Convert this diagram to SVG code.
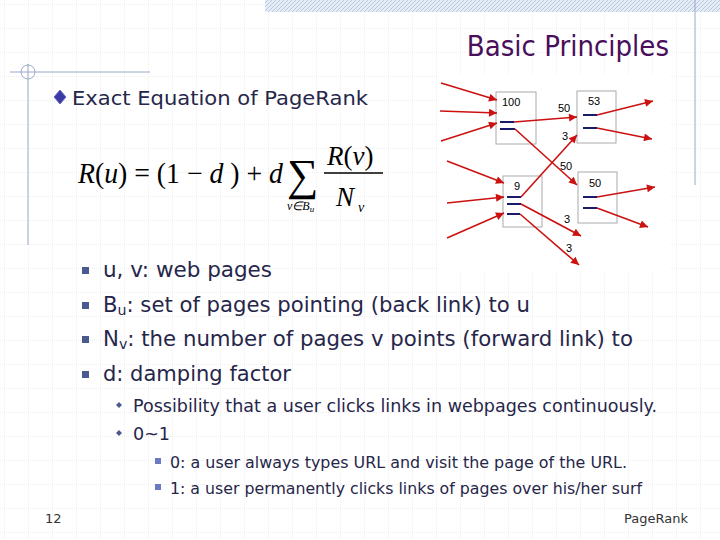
<svg xmlns="http://www.w3.org/2000/svg" width="720" height="540" viewBox="0 0 720 540">
<defs>
<pattern id="grid" width="24" height="24" patternUnits="userSpaceOnUse" x="4" y="4">
<path d="M0 0H24M0 0V24" fill="none" stroke="#d8d8d8" stroke-width="0.8" stroke-dasharray="1,1"/>
</pattern>
<pattern id="hatch" width="4" height="4" patternUnits="userSpaceOnUse">
<rect width="4" height="4" fill="#e4ecf6"/><path d="M0 4L4 0" stroke="#b8c8e0" stroke-width="1"/>
</pattern>
<marker id="ah" viewBox="0 0 10 10" refX="10" refY="5" markerWidth="6.5" markerHeight="5" orient="auto" markerUnits="strokeWidth">
<path d="M0 0L10 5L0 10z" fill="#cc1111"/>
</marker>
<style>
.t{font-family:"DejaVu Sans",sans-serif;fill:#26264a}
.m{font-family:"Liberation Serif",serif;fill:#000}
.box{fill:#fff;stroke:#aaa;stroke-width:1}
.ln{stroke:#1a1a6a;stroke-width:2}
.ar{stroke:#cc1111;stroke-width:1.6;fill:none;marker-end:url(#ah)}
.lb{font-family:"Liberation Sans",sans-serif;font-size:11px;fill:#000}
.bl{fill:#4a5a90}
</style>
</defs>
<rect width="720" height="540" fill="#fff"/>
<rect width="720" height="540" fill="url(#grid)"/>
<rect x="265" y="0" width="455" height="12" fill="url(#hatch)"/>
<line x1="695" y1="0" x2="695" y2="185" stroke="#9aa8c8" stroke-width="1"/>
<line x1="10" y1="72" x2="150" y2="72" stroke="#9aa8c8" stroke-width="1"/>
<line x1="28" y1="64" x2="28" y2="245" stroke="#9aa8c8" stroke-width="1"/>
<circle cx="28" cy="72" r="7" fill="none" stroke="#9aa8c8" stroke-width="1"/>
<text x="669" y="56" text-anchor="end" font-family="DejaVu Sans Condensed,DejaVu Sans,sans-serif" font-size="29" fill="#4a0f5c">Basic Principles</text>
<path d="M60 90L66 97L60 104L54 97z" fill="#3a3aa0" stroke="#6a6ad0"/>
<text class="t" x="72" y="105" font-size="20" textLength="296" lengthAdjust="spacingAndGlyphs">Exact Equation of PageRank</text>

<g id="formula">
<text class="m" x="78" y="183" font-size="29" textLength="205" lengthAdjust="spacingAndGlyphs"><tspan font-style="italic">R</tspan>(<tspan font-style="italic">u</tspan>) = (1 − <tspan font-style="italic">d</tspan> ) + <tspan font-style="italic">d</tspan></text>
<text class="m" x="287" y="190" font-size="44">∑</text>
<text class="m" x="287" y="210" font-size="12" font-style="italic">v∈B<tspan font-size="9" dy="2">u</tspan></text>
<text class="m" x="327" y="165" font-size="27" font-style="italic">R<tspan font-style="normal">(</tspan>v<tspan font-style="normal">)</tspan></text>
<line x1="324" y1="173" x2="383" y2="173" stroke="#000" stroke-width="1.3"/>
<text class="m" x="336" y="206" font-size="27" font-style="italic">N</text>
<text class="m" x="358" y="212" font-size="14" font-style="italic">v</text>
</g>

<rect x="438" y="74" width="232" height="200" fill="#fff"/>
<g id="n100"><rect class="box" x="496" y="92" width="40" height="52"/><text class="lb" x="502" y="106">100</text></g>
<g id="n53"><rect class="box" x="577" y="91" width="39" height="52"/><text class="lb" x="588" y="105">53</text></g>
<g id="n9"><rect class="box" x="503" y="176" width="39" height="51"/><text class="lb" x="514" y="190">9</text></g>
<g id="n50"><rect class="box" x="578" y="172" width="39" height="51"/><text class="lb" x="589" y="187">50</text></g>
<g id="connectors">
<line class="ln" x1="500" y1="122" x2="514" y2="122"/><line class="ln" x1="500" y1="129" x2="515" y2="129"/>
<line class="ln" x1="583" y1="115" x2="597" y2="115"/><line class="ln" x1="583" y1="128" x2="597" y2="128"/>
<line class="ln" x1="507" y1="197" x2="521" y2="197"/><line class="ln" x1="507" y1="204" x2="521" y2="204"/><line class="ln" x1="507" y1="214" x2="520" y2="214"/>
<line class="ln" x1="583" y1="197" x2="597" y2="197"/><line class="ln" x1="583" y1="208" x2="597" y2="208"/>
<path class="ar" d="M441 83L497 100"/><path class="ar" d="M440 111L497 113"/><path class="ar" d="M441 141L497 123"/>
<path class="ar" d="M514 122L577 117"/><path class="ar" d="M515 129L577 185"/>
<path class="ar" d="M597 115L653 101"/><path class="ar" d="M597 128L652 139"/>
<path class="ar" d="M447 161L504 183"/><path class="ar" d="M447 203L504 197"/><path class="ar" d="M447 238L504 213"/>
<path class="ar" d="M521 197L577 135"/><path class="ar" d="M521 204L581 236"/><path class="ar" d="M520 214L579 265"/>
<path class="ar" d="M597 197L655 187"/><path class="ar" d="M597 208L648 227"/>
<text class="lb" x="558" y="112">50</text><text class="lb" x="562" y="140">3</text>
<text class="lb" x="560" y="170">50</text><text class="lb" x="564" y="223">3</text><text class="lb" x="566" y="252">3</text>
</g>

<rect class="bl" x="82" y="267" width="7" height="7"/>
<rect class="bl" x="82" y="302" width="7" height="7"/>
<rect class="bl" x="82" y="336" width="7" height="7"/>
<rect class="bl" x="82" y="371" width="7" height="7"/>
<text class="t" x="103" y="277" font-size="21" textLength="169" lengthAdjust="spacingAndGlyphs">u, v: web pages</text>
<text class="t" x="103" y="312" font-size="21" textLength="427" lengthAdjust="spacingAndGlyphs">B<tspan font-size="14" dy="3">u</tspan><tspan dy="-3">: set of pages pointing (back link) to u</tspan></text>
<text class="t" x="103" y="346" font-size="21" textLength="530" lengthAdjust="spacingAndGlyphs">N<tspan font-size="14" dy="3">v</tspan><tspan dy="-3">: the number of pages v points (forward link) to</tspan></text>
<text class="t" x="103" y="381" font-size="21" textLength="188" lengthAdjust="spacingAndGlyphs">d: damping factor</text>
<path d="M119 402L122 405L119 408L116 405z" class="bl"/>
<path d="M119 430L122 433L119 436L116 433z" class="bl"/>
<text class="t" x="133" y="412" font-size="17" textLength="524" lengthAdjust="spacingAndGlyphs">Possibility that a user clicks links in webpages continuously.</text>
<text class="t" x="133" y="440" font-size="17" textLength="37" lengthAdjust="spacingAndGlyphs">0~1</text>
<rect x="155" y="458" width="6" height="6" fill="#6a7ac0"/>
<rect x="155" y="484" width="6" height="6" fill="#6a7ac0"/>
<text class="t" x="170" y="468" font-size="15" textLength="457" lengthAdjust="spacingAndGlyphs">0: a user always types URL and visit the page of the URL.</text>
<text class="t" x="170" y="494" font-size="15" textLength="472" lengthAdjust="spacingAndGlyphs">1: a user permanently clicks links of pages over his/her surf</text>
<text class="t" x="45" y="523" font-size="13" style="fill:#333">12</text>
<text class="t" x="688" y="523" font-size="13" text-anchor="end" style="fill:#333">PageRank</text>
</svg>
